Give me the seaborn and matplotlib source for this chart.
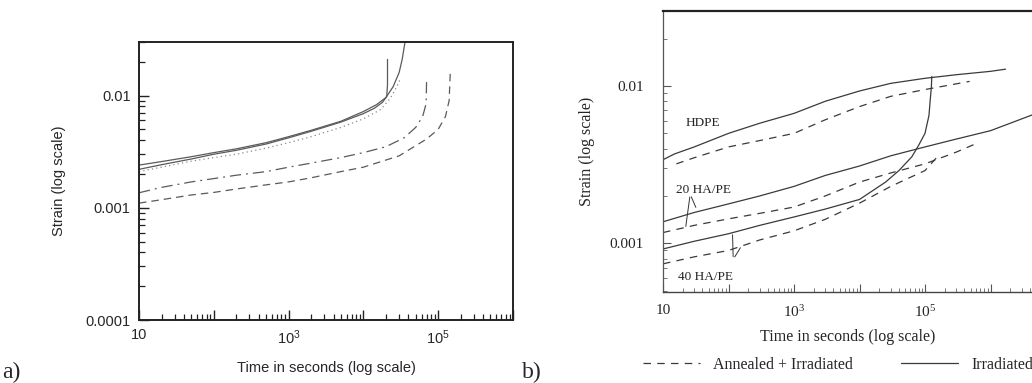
import matplotlib
matplotlib.use("Agg")
import matplotlib.pyplot as plt
from matplotlib.lines import Line2D
from matplotlib.ticker import LogLocator, NullFormatter
import seaborn as sns
import pandas as pd

# ---------------- data: panel a ----------------
a_t_solid1 = [10, 20, 50, 100, 200, 500, 1000, 2000, 5000, 1e4, 1.5e4, 2e4, 2.5e4, 3e4, 3.3e4, 3.6e4]
a_s_solid1 = [0.0024, 0.00258, 0.00285, 0.0031, 0.00335, 0.0038, 0.0043, 0.0049, 0.0059, 0.0072,
              0.0083, 0.0096, 0.012, 0.016, 0.021, 0.030]
a_t_solid2 = [10, 20, 50, 100, 200, 500, 1000, 2000, 5000, 1e4, 1.4e4, 1.8e4, 2.05e4, 2.1e4, 2.1e4]
a_s_solid2 = [0.0022, 0.00242, 0.00272, 0.0030, 0.00325, 0.0037, 0.0042, 0.0048, 0.0058, 0.0069,
              0.0077, 0.0087, 0.0098, 0.0125, 0.021]
a_t_dotted = [10, 20, 50, 100, 200, 500, 1000, 2000, 5000, 1e4, 1.7e4, 2.3e4, 2.8e4, 3.1e4]
a_s_dotted = [0.0021, 0.0023, 0.0026, 0.0028, 0.0030, 0.0034, 0.0038, 0.0043, 0.0052, 0.0062,
              0.0075, 0.0095, 0.0120, 0.0140]
a_t_dashdot = [10, 20, 50, 100, 200, 500, 1000, 2000, 5000, 1e4, 2e4, 3.5e4, 5e4, 6.2e4, 6.9e4, 7.0e4]
a_s_dashdot = [0.00136, 0.00152, 0.0017, 0.00182, 0.00195, 0.0021, 0.0023, 0.0025, 0.0028, 0.0031,
               0.0035, 0.0042, 0.0052, 0.0065, 0.0085, 0.014]
a_t_dashed = [10, 20, 50, 100, 200, 500, 1000, 2000, 5000, 1e4, 3e4, 7e4, 1e5, 1.25e5, 1.4e5, 1.45e5]
a_s_dashed = [0.0011, 0.00118, 0.0013, 0.00137, 0.00147, 0.0016, 0.0017, 0.00185, 0.0021, 0.0023,
              0.0029, 0.0041, 0.0050, 0.0065, 0.0090, 0.016]

# ---------------- data: panel b ----------------
b_t_hdpe_irr = [10, 15, 30, 100, 300, 1e3, 3e3, 1e4, 3e4, 1e5, 3e5, 1e6, 1.7e6]
b_s_hdpe_irr = [0.0034, 0.0037, 0.0041, 0.0050, 0.0058, 0.0067, 0.0080, 0.0093, 0.0104, 0.0112,
                0.0118, 0.0124, 0.0128]
b_t_hdpe_ann = [16, 30, 100, 300, 1e3, 3e3, 1e4, 3e4, 1e5, 4.8e5]
b_s_hdpe_ann = [0.0032, 0.0035, 0.0041, 0.0045, 0.0050, 0.0061, 0.0074, 0.0086, 0.0095, 0.0107]
b_t_20_irr = [10, 30, 100, 300, 1e3, 3e3, 1e4, 3e4, 1e5, 3e5, 1e6, 5e6]
b_s_20_irr = [0.00137, 0.00157, 0.00178, 0.0020, 0.0023, 0.0027, 0.0031, 0.0036, 0.0041, 0.0046,
              0.0052, 0.0067]
b_t_20_ann = [10, 30, 100, 300, 1e3, 3e3, 1e4, 3e4, 1e5, 3e5, 6e5]
b_s_20_ann = [0.00117, 0.0013, 0.00143, 0.00155, 0.0017, 0.0020, 0.00245, 0.0028, 0.0032, 0.0038, 0.0043]
b_t_40_irr = [10, 30, 100, 300, 1e3, 3e3, 1e4, 2.5e4, 4e4, 6.3e4, 8e4, 1e5, 1.15e5, 1.2e5, 1.25e5, 1.27e5]
b_s_40_irr = [0.00092, 0.00103, 0.00115, 0.0013, 0.00147, 0.00165, 0.0019, 0.00245, 0.0029, 0.00355,
              0.0042, 0.0050, 0.0065, 0.0081, 0.0098, 0.0115]
b_t_40_ann = [10, 30, 100, 300, 1e3, 3e3, 1e4, 3e4, 1e5, 1.5e5]
b_s_40_ann = [0.00074, 0.00082, 0.0009, 0.00105, 0.0012, 0.00142, 0.0018, 0.0023, 0.0029, 0.0035]

a_yticks = [1e-4, 1e-3, 1e-2]
a_yticklabels = ["0.0001", "0.001", "0.01"]
a_xticks = [10, 1e2, 1e3, 1e4, 1e5, 1e6]
a_xticklabels = ["10", "", "10$^3$", "", "10$^5$", ""]
b_yticks = [1e-3, 1e-2]
b_yticklabels = ["0.001", "0.01"]
b_xticks = [10, 1e2, 1e3, 1e4, 1e5, 1e6, 1e7]
b_xticklabels = ["10", "", "10$^3$", "", "10$^5$", "", ""]

sns.set_style("white")
SANS = ["Liberation Sans", "DejaVu Sans"]
SERIF = ["Liberation Serif", "DejaVu Serif"]
plt.rcParams["font.family"] = SANS
plt.rcParams["mathtext.default"] = "regular"

fig = plt.figure(figsize=(10.32, 3.83), dpi=100)
ax_a = fig.add_axes([139 / 1032, 1 - 320 / 383, 374 / 1032, 278 / 383])
ax_b = fig.add_axes([663 / 1032, 1 - 292 / 383, 393 / 1032, 281 / 383])


def draw(ax, t, s, color, ls, lw, dashes=None):
    df = pd.DataFrame({"t": t, "s": s})
    sns.lineplot(data=df, x="t", y="s", ax=ax, sort=False, estimator=None,
                 color=color, linewidth=lw, linestyle=ls)
    if dashes is not None:
        ax.lines[-1].set_dashes(dashes)


ca = "#5a5a5a"
draw(ax_a, a_t_solid1, a_s_solid1, ca, "-", 0.9)
draw(ax_a, a_t_solid2, a_s_solid2, ca, "-", 0.9)
draw(ax_a, a_t_dotted, a_s_dotted, "#8a8a8a", ":", 0.9, dashes=(1, 2.5))
draw(ax_a, a_t_dashdot, a_s_dashdot, ca, "-.", 0.9, dashes=(9, 4, 1.5, 4))
draw(ax_a, a_t_dashed, a_s_dashed, ca, "--", 0.9, dashes=(6, 4))

cb = "#3a3a3a"
draw(ax_b, b_t_hdpe_irr, b_s_hdpe_irr, cb, "-", 0.9)
draw(ax_b, b_t_hdpe_ann, b_s_hdpe_ann, cb, "--", 0.9, dashes=(6, 5))
draw(ax_b, b_t_20_irr, b_s_20_irr, cb, "-", 0.9)
draw(ax_b, b_t_20_ann, b_s_20_ann, cb, "--", 0.9, dashes=(6, 5))
draw(ax_b, b_t_40_irr, b_s_40_irr, cb, "-", 0.9)
draw(ax_b, b_t_40_ann, b_s_40_ann, cb, "--", 0.9, dashes=(6, 5))

# ---- axes a ----
ax_a.set_xscale("log")
ax_a.set_yscale("log")
ax_a.set_xlim(10, 10 ** 5.95)
ax_a.set_ylim(1e-4, 0.03)
ax_a.set_xticks(a_xticks)
ax_a.set_xticklabels(a_xticklabels, family=SANS, fontsize=10.5)
ax_a.set_yticks(a_yticks)
ax_a.set_yticklabels(a_yticklabels, family=SANS, fontsize=10.5)
ax_a.xaxis.set_minor_locator(LogLocator(base=10, subs=range(2, 10), numticks=20))
ax_a.yaxis.set_minor_locator(LogLocator(base=10, subs=range(2, 10), numticks=20))
ax_a.xaxis.set_minor_formatter(NullFormatter())
ax_a.yaxis.set_minor_formatter(NullFormatter())
ax_a.tick_params(which="both", bottom=True, left=True, top=False, right=False)
ax_a.tick_params(which="major", direction="in", length=7, width=1.0, color="#222222", pad=6)
ax_a.tick_params(which="minor", direction="in", length=4, width=0.9, color="#222222")
for sp in ax_a.spines.values():
    sp.set_color("#222222")
    sp.set_linewidth(1.4)
ax_a.set_xlabel("Time in seconds (log scale)", family=SANS, fontsize=10.5, labelpad=10)
ax_a.set_ylabel("Strain (log scale)", family=SANS, fontsize=10.5, labelpad=14)

# ---- axes b ----
ax_b.set_xscale("log")
ax_b.set_yscale("log")
ax_b.set_xlim(10, 1e7)
ax_b.set_ylim(4.9e-4, 0.030)
ax_b.set_xticks(b_xticks)
ax_b.set_xticklabels(b_xticklabels, family=SERIF, fontsize=11)
ax_b.set_yticks(b_yticks)
ax_b.set_yticklabels(b_yticklabels, family=SERIF, fontsize=11)
ax_b.xaxis.set_minor_locator(LogLocator(base=10, subs=range(2, 10), numticks=20))
ax_b.yaxis.set_minor_locator(LogLocator(base=10, subs=range(2, 10), numticks=20))
ax_b.xaxis.set_minor_formatter(NullFormatter())
ax_b.yaxis.set_minor_formatter(NullFormatter())
ax_b.tick_params(which="both", bottom=True, left=True, top=False, right=False)
ax_b.tick_params(which="major", direction="in", length=6, width=0.8, color="#555555")
ax_b.tick_params(which="minor", direction="in", length=3, width=0.7, color="#777777")
ax_b.tick_params(axis="x", which="major", pad=9)
ax_b.tick_params(axis="y", which="major", pad=14)
ax_b.spines["right"].set_visible(False)
ax_b.spines["top"].set_linewidth(1.6)
ax_b.spines["top"].set_color("#222222")
ax_b.spines["left"].set_linewidth(0.9)
ax_b.spines["left"].set_color("#555555")
ax_b.spines["bottom"].set_linewidth(1.0)
ax_b.spines["bottom"].set_color("#444444")
ax_b.set_xlabel("Time in seconds (log scale)", family=SERIF, fontsize=11.5, labelpad=6, x=0.47)
ax_b.set_ylabel("Strain (log scale)", family=SERIF, fontsize=11.5, labelpad=10)

# curve labels in b
ax_b.text(22, 0.0056, "HDPE", family=SERIF, fontsize=9.5, color="#222222")
ax_b.text(16, 0.0021, "20 HA/PE", family=SERIF, fontsize=9.5, color="#222222")
ax_b.text(17, 0.00058, "40 HA/PE", family=SERIF, fontsize=9.5, color="#222222")
# hand-drawn pointer strokes
ann = dict(arrowstyle="-", color="#333333", lw=0.7)
ax_b.annotate("", xy=(33, 0.00163), xytext=(26, 0.00205), arrowprops=ann)
ax_b.annotate("", xy=(22, 0.00123), xytext=(26, 0.00205), arrowprops=ann)
ax_b.annotate("", xy=(115, 0.00118), xytext=(118, 0.00079), arrowprops=ann)
ax_b.annotate("", xy=(160, 0.00097), xytext=(118, 0.00079), arrowprops=ann)

# legend under b
handles = [Line2D([], [], color=cb, lw=0.9, linestyle=(0, (6, 5))),
           Line2D([], [], color=cb, lw=0.9, linestyle="-")]
fig.legend(handles, ["Annealed + Irradiated", "Irradiated"], ncol=2, frameon=False,
           loc="center", bbox_to_anchor=(838 / 1032, 1 - 365 / 383),
           prop={"family": SERIF, "size": 11.5}, handlelength=3.6,
           columnspacing=3.0, handletextpad=0.8)

# panel letters
fig.text(2 / 1032, 1 - 372 / 383, "a)", family=SERIF, fontsize=17, va="center")
fig.text(522 / 1032, 1 - 372 / 383, "b)", family=SERIF, fontsize=17, va="center")

fig.savefig("out.png", dpi=100)
